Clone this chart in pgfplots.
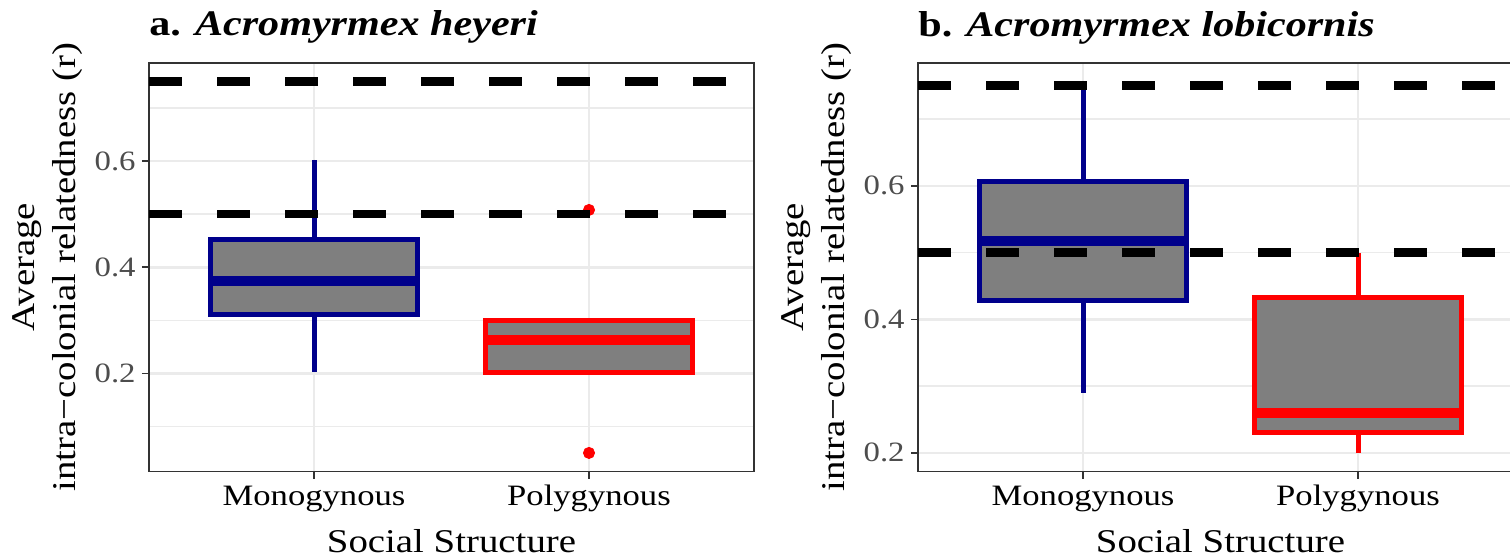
\documentclass[border=0pt]{standalone}
\usepackage{fontspec}
\setmainfont{Liberation Serif}[FakeStretch=1.17]
\usepackage{pgfplots}
\pgfplotsset{compat=1.18}
\usepgfplotslibrary{statistics}
\definecolor{gridc}{HTML}{EBEBEB}
\definecolor{borderc}{HTML}{333333}
\definecolor{tickc}{HTML}{4D4D4D}
\definecolor{boxfill}{HTML}{7F7F7F}
\definecolor{bluec}{HTML}{00008B}
\definecolor{redc}{HTML}{FF0000}
\pgfplotsset{
  panel/.style={
    scale only axis, width=302.5pt, height=204.25pt, clip mode=individual,
    xmin=0.4, xmax=2.6, xtick={1,2}, xticklabels={Monogynous,Polygynous},
    tick align=outside, tick pos=left,
    major tick length=3.5pt, minor tick length=0pt,
    grid=both,
    major grid style={gridc, line width=1.3pt},
    minor grid style={gridc, line width=0.7pt},
    axis line style={borderc, line width=0.8pt},
    major tick style={borderc, line width=0.8pt},
    minor tick style={draw=none},
    xticklabel style={font=\fontsize{14.8}{16}\selectfont, text=black,
      anchor=base, yshift=-13.5pt},
    yticklabel style={font=\fontsize{14}{16}\selectfont, text=tickc, inner sep=3pt,
      /pgf/number format/fixed, /pgf/number format/precision=1,
      /pgf/number format/fixed zerofill},
    /pgf/number format/assume math mode=true,
    xlabel={Social Structure},
    xlabel style={font=\fontsize{16.6}{18}\selectfont, at={(rel axis cs:0.5,0)},
      anchor=base, inner sep=0pt, yshift=-40.5pt},
    ylabel={Average\\intra−colonial relatedness (r)},
    ylabel style={font=\fontsize{16.6}{20.5}\selectfont, align=center,
      at={(rel axis cs:0,0.5)}, anchor=south, inner sep=0pt, yshift=33pt},
    boxplot/draw direction=y,
    boxplot/box extend=0.75,
    boxplot/whisker extend=0,
    boxplot/every median/.style={line width=5pt},
    boxplot/every box/.style={line width=2.5pt, line join=miter},
    boxplot/every whisker/.style={line width=2.5pt},
  },
  hline/.style={black, line width=4.3pt, dash pattern=on 16.5pt off 17.5pt},
}
\newcommand{\paneltitle}[1]{\node[anchor=base west, inner sep=0pt, yshift=13.5pt,
  font=\fontsize{18}{20}\selectfont\bfseries] at (rel axis cs:0,1) {#1};}
\begin{document}
\begin{tikzpicture}
\begin{axis}[panel, at={(74.5pt,43.25pt)}, anchor=south west,
  ymin=0.015, ymax=0.785, ytick={0.2,0.4,0.6}, minor ytick={0.1,0.3,0.5,0.7}]
\addplot[draw=bluec, fill=boxfill, boxplot prepared={draw position=1,
  lower whisker=0.202, lower quartile=0.311, median=0.374,
  upper quartile=0.452, upper whisker=0.603}] coordinates {};
\addplot[draw=redc, fill=boxfill, boxplot prepared={draw position=2,
  lower whisker=0.201, lower quartile=0.201, median=0.263,
  upper quartile=0.300, upper whisker=0.300}] coordinates {};
\addplot[only marks, mark=*, mark size=2.8pt, color=redc] coordinates {(2,0.508) (2,0.050)};
\addplot[hline] coordinates {(0.4,0.75) (2.6,0.75)};
\addplot[hline] coordinates {(0.4,0.5) (2.6,0.5)};
\paneltitle{a. \textit{Acromyrmex heyeri}}
\end{axis}
\begin{axis}[panel, at={(459pt,43.25pt)}, anchor=south west,
  ymin=0.172, ymax=0.784, ytick={0.2,0.4,0.6}, minor ytick={0.3,0.5,0.7}]
\addplot[draw=bluec, fill=boxfill, boxplot prepared={draw position=1,
  lower whisker=0.290, lower quartile=0.428, median=0.518,
  upper quartile=0.606, upper whisker=0.750}] coordinates {};
\addplot[draw=redc, fill=boxfill, boxplot prepared={draw position=2,
  lower whisker=0.200, lower quartile=0.231, median=0.259,
  upper quartile=0.432, upper whisker=0.500}] coordinates {};
\addplot[hline] coordinates {(0.4,0.75) (2.6,0.75)};
\addplot[hline] coordinates {(0.4,0.5) (2.6,0.5)};
\paneltitle{b. \textit{Acromyrmex lobicornis}}
\end{axis}
\pgfresetboundingbox
\useasboundingbox (0,0) rectangle (755pt,279pt);
\end{tikzpicture}
\end{document}
